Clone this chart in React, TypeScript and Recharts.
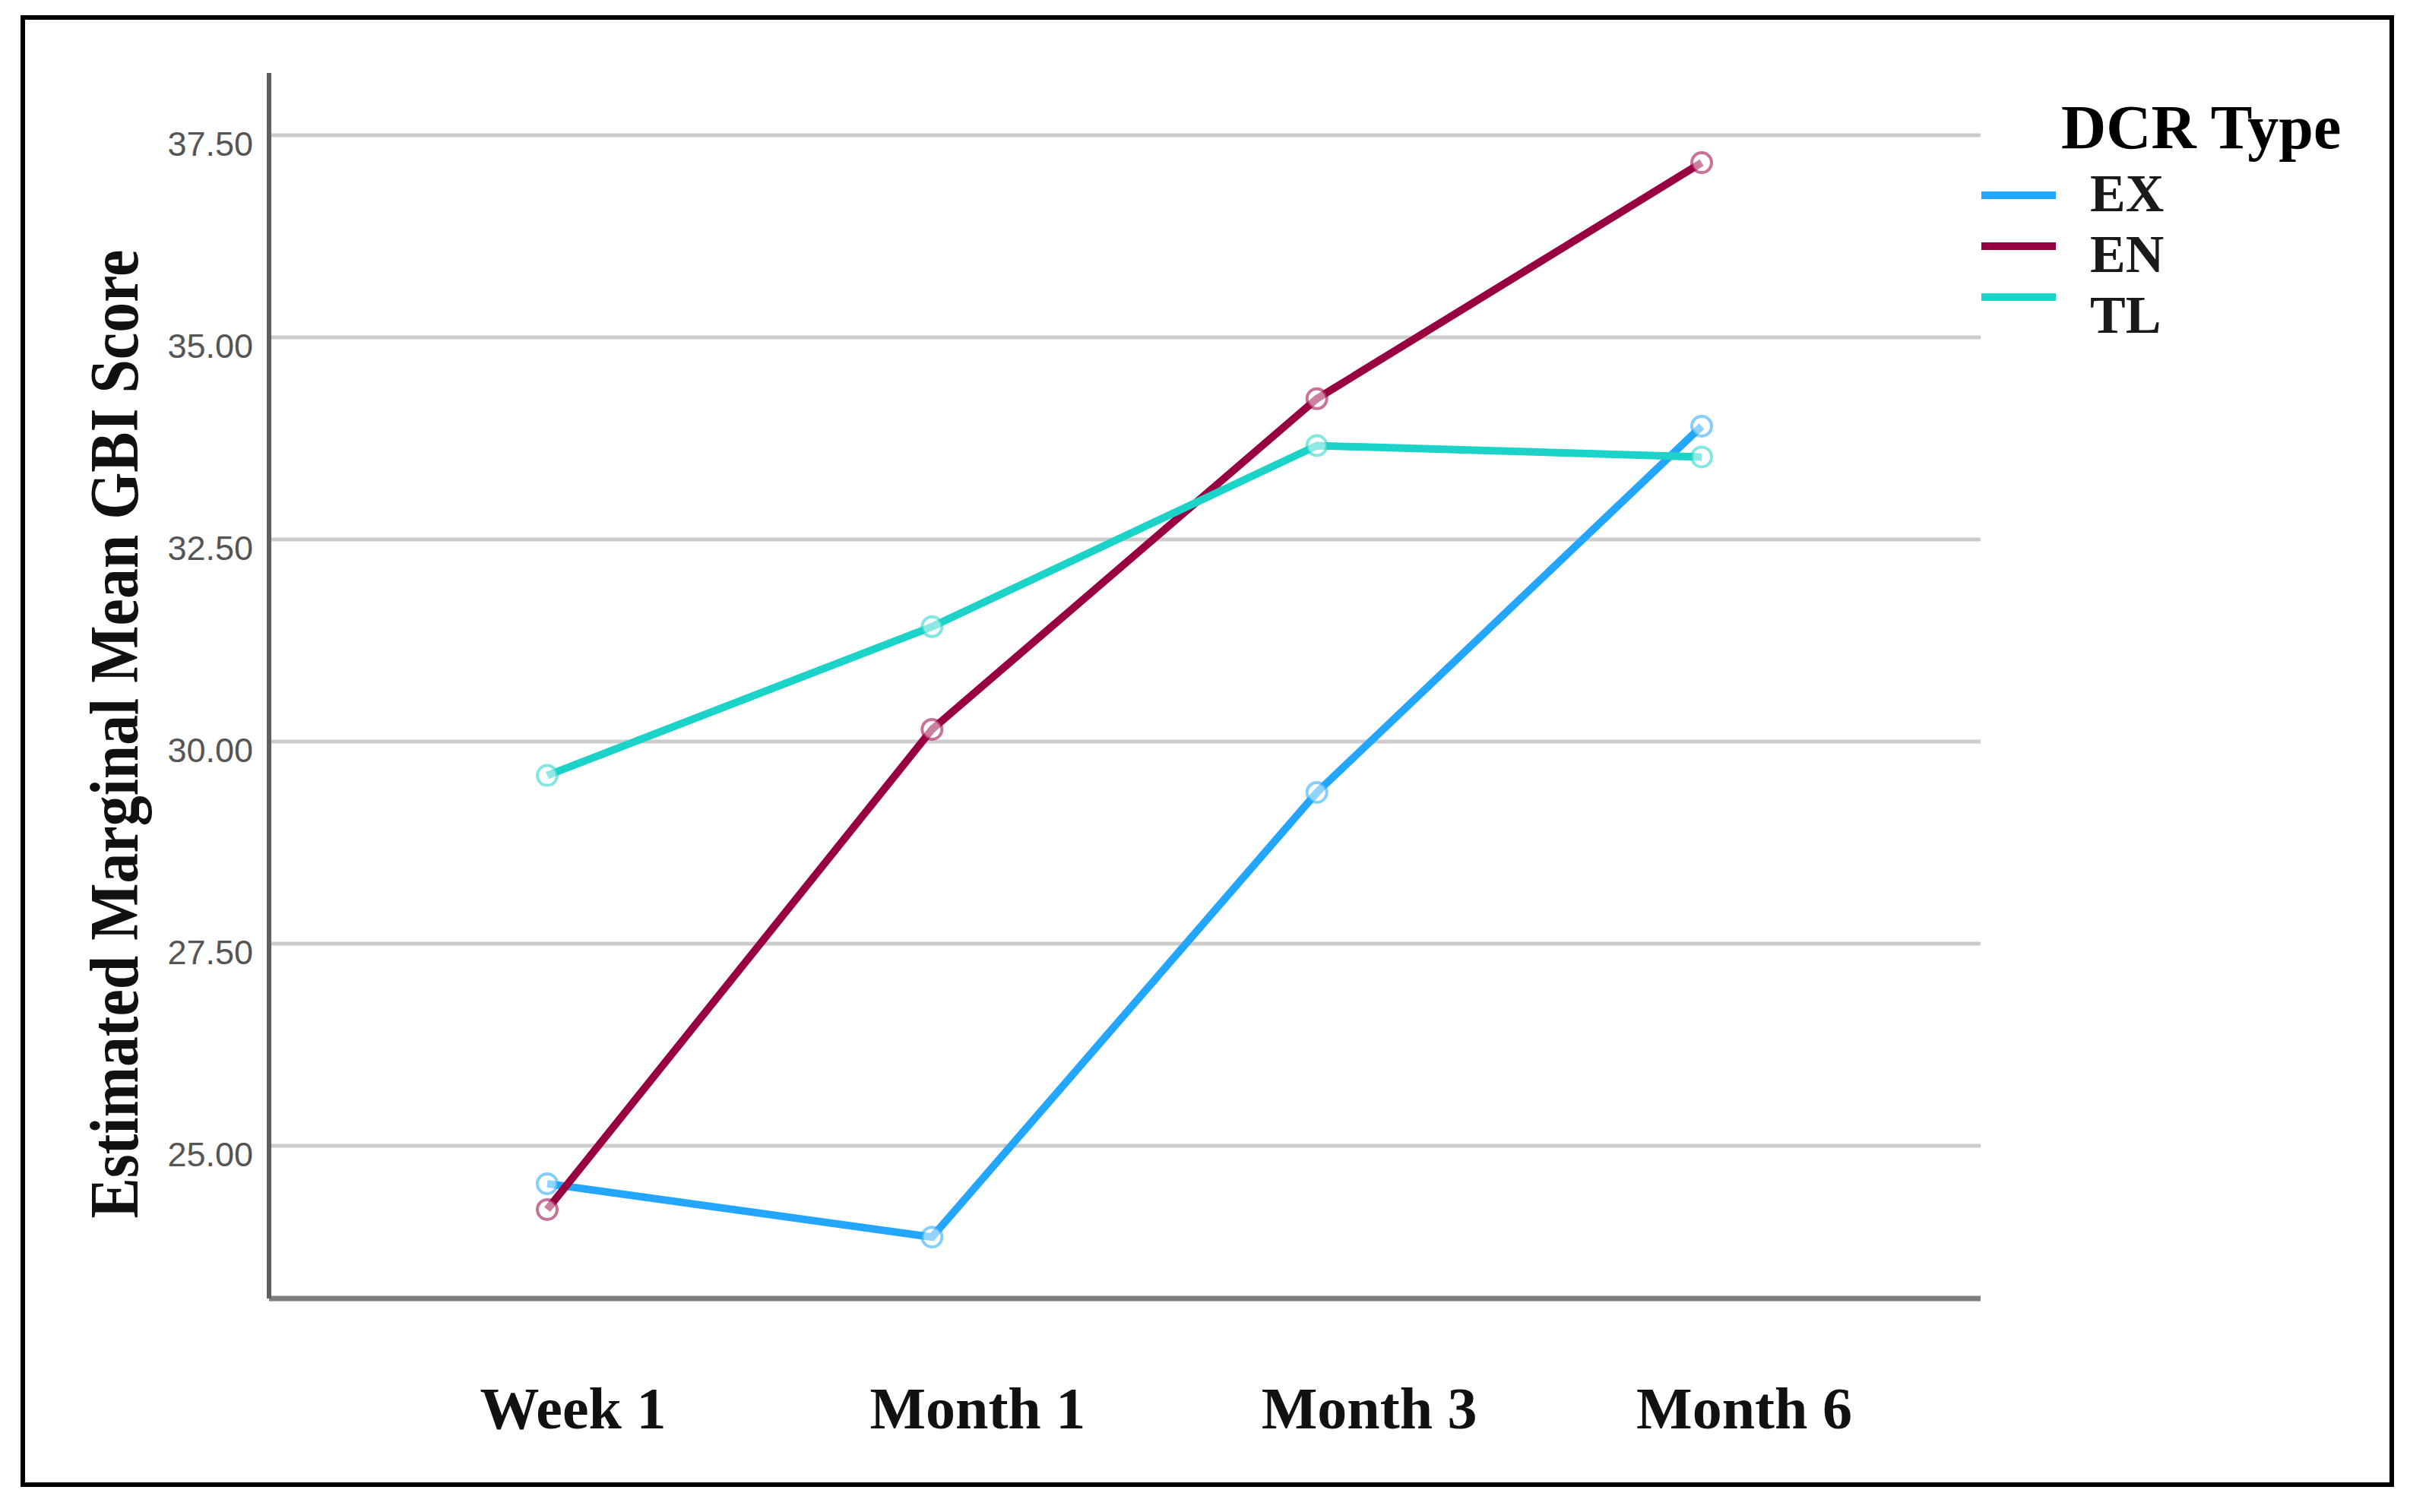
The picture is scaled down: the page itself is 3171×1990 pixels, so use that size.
import React from "react";
import { LineChart, Line, XAxis, YAxis, CartesianGrid, Legend } from "recharts";

// estimated marginal means
const timepoints = ["Week 1", "Month 1", "Month 3", "Month 6"];
const exScores = [24.53, 23.87, 29.37, 33.9];
const enScores = [24.21, 30.15, 34.24, 37.16];
const tlScores = [29.58, 31.42, 33.66, 33.52];
const yTicks = [25, 27.5, 30, 32.5, 35, 37.5];
const seriesOrder = ["EX", "EN", "TL"];

const colors: Record<string, string> = { EX: "#22a6ff", EN: "#990041", TL: "#1bd3c9" };

const data = timepoints.map((t, i) => ({
  time: t,
  EX: exScores[i],
  EN: enScores[i],
  TL: tlScores[i],
}));

// the category labels sit a bit right of the points in the original
const labelShift = [34, 60, 69, 56];

const serif = "'Liberation Serif', 'Times New Roman', serif";

const XTick = ({ x, y, payload, index }: any) => (
  <text
    x={x + (labelShift[index] || 0)}
    y={y + 171}
    textAnchor="middle"
    fontFamily={serif}
    fontWeight="bold"
    fontSize={78}
    fill="#111"
  >
    {payload.value}
  </text>
);

const YTick = ({ x, y, payload }: any) => (
  <text x={x} y={y + 27} textAnchor="end" fontFamily="'Liberation Sans', Arial, sans-serif" fontSize={45} fill="#555">
    {Number(payload.value).toFixed(2)}
  </text>
);

const YTitle = () => (
  <text
    transform="translate(181, 966) rotate(-90)"
    textAnchor="middle"
    fontFamily={serif}
    fontWeight="bold"
    fontSize={90}
    textLength={1275}
    lengthAdjust="spacingAndGlyphs"
    fill="#111"
  >
    Estimated Marginal Mean GBI Score
  </text>
);

const renderLegend = (props: any) => {
  const items = [...(props.payload || [])].sort(
    (a: any, b: any) => seriesOrder.indexOf(a.value) - seriesOrder.indexOf(b.value)
  );
  return (
    <svg width={560} height={360} style={{ display: "block", overflow: "visible" }}>
      <text x={112} y={75} fontFamily={serif} fontWeight="bold" fontSize={82} fill="#000">
        DCR Type
      </text>
      {items.map((entry: any, i: number) => (
        <g key={entry.value}>
          <line x1={7} x2={105} y1={137 + i * 67} y2={137 + i * 67} stroke={entry.color} strokeWidth={10} />
          <text x={150} y={158 + i * 80} fontFamily={serif} fontWeight="bold" fontSize={70} fill="#1a1a1a">
            {entry.value}
          </text>
        </g>
      ))}
    </svg>
  );
};

const dotStyle = { r: 13, strokeWidth: 4, fill: "#fff", fillOpacity: 0.5, strokeOpacity: 0.55 };

export default function App() {
  return (
    <div style={{ position: "absolute", left: 0, top: 0, width: 3171, height: 1990, background: "#fff" }}>
      <LineChart width={3171} height={1990} data={data} margin={{ top: 96, right: 565, bottom: 0, left: 0 }}>
        <CartesianGrid horizontal vertical={false} syncWithTicks stroke="#cccccc" strokeWidth={5} />
        <XAxis
          dataKey="time"
          height={281}
          padding={{ left: 366, right: 367 }}
          tickLine={false}
          tickSize={0}
          tickMargin={0}
          axisLine={{ stroke: "#7d7d7d", strokeWidth: 7 }}
          tick={<XTick />}
          interval={0}
        />
        <YAxis
          type="number"
          width={354}
          domain={[23.11, 38.27]}
          ticks={yTicks}
          allowDataOverflow
          tickLine={false}
          tickSize={0}
          tickMargin={21}
          axisLine={{ stroke: "#5f5f5f", strokeWidth: 6 }}
          tick={<YTick />}
          label={{ content: () => <YTitle /> }}
        />
        <Legend
          layout="horizontal"
          verticalAlign="middle"
          align="right"
          wrapperStyle={{ left: 2600, top: 120, right: "auto", width: 0, height: 0, overflow: "visible" }}
          content={renderLegend}
        />
        <Line type="linear" dataKey="EX" name="EX" stroke={colors.EX} strokeWidth={10} dot={dotStyle} activeDot={false} isAnimationActive={false} />
        <Line type="linear" dataKey="EN" name="EN" stroke={colors.EN} strokeWidth={10} dot={dotStyle} activeDot={false} isAnimationActive={false} />
        <Line type="linear" dataKey="TL" name="TL" stroke={colors.TL} strokeWidth={10} dot={dotStyle} activeDot={false} isAnimationActive={false} />
      </LineChart>
      <div
        style={{
          position: "absolute",
          left: 27,
          top: 20,
          width: 3123,
          height: 1937,
          border: "6px solid #000",
          boxSizing: "border-box",
          pointerEvents: "none",
        }}
      />
    </div>
  );
}
